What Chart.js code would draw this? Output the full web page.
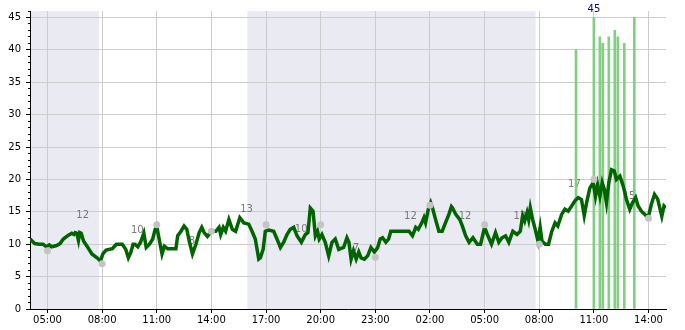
<!DOCTYPE html>
<html>
<head>
<meta charset="utf-8">
<script src="https://cdn.jsdelivr.net/npm/chart.js@4.4.1/dist/chart.umd.min.js"></script>
<style>
  html, body { margin: 0; padding: 0; background: #fff; }
</style>
</head>
<body>
<canvas id="windChart" width="685" height="330"></canvas>
<script>
// hours counted from 00:00 of the first day (26 = 02:00 next day)
var lineHours = [4.04, 4.30, 4.55, 4.76, 4.94, 5.10, 5.22, 5.5, 5.69, 5.87, 6.15, 6.33, 6.45, 6.52, 6.61, 6.70, 6.77, 6.85, 6.98,
  7.17, 7.44, 7.72, 7.91, 8.04, 8.22, 8.56, 8.78, 9.11, 9.30, 9.44, 9.57, 9.70, 9.80,
  9.96, 10.11, 10.29, 10.42, 10.6, 10.78, 10.91, 11.0, 11.15, 11.29, 11.42, 11.6, 11.87, 12.05, 12.15, 12.33, 12.5, 12.65,
  12.78, 12.96, 13.15, 13.33, 13.47, 13.6, 13.78, 14.0, 14.24, 14.42, 14.51, 14.65, 14.78, 14.96, 15.15, 15.33, 15.56,
  15.78, 16.05, 16.23, 16.41, 16.6, 16.69, 16.84, 16.96, 17.15, 17.42, 17.6, 17.79, 17.97, 18.15, 18.33, 18.52, 18.7,
  18.94, 19.16, 19.3, 19.43, 19.58, 19.71, 19.83, 19.92, 20.07, 20.25, 20.44, 20.62, 20.8, 20.99, 21.26, 21.44,
  21.55, 21.67, 21.8, 21.95, 22.09, 22.22, 22.4, 22.58, 22.76, 22.95, 23.13, 23.27, 23.4, 23.58, 23.73, 23.85,
  24.85, 25.04, 25.22, 25.36, 25.55, 25.67, 25.76, 25.91, 26.04, 26.16, 26.31, 26.49, 26.67, 26.85, 27.04, 27.18,
  27.24, 27.42, 27.64, 27.78, 27.96, 28.15, 28.36, 28.6, 28.78, 29.0, 29.15, 29.38, 29.6, 29.78, 29.96, 30.15, 30.33,
  30.55, 30.78, 30.96, 31.09, 31.2, 31.33, 31.42, 31.51, 31.64, 31.78, 31.93, 32.05, 32.15, 32.33, 32.51, 32.69, 32.87,
  33.02, 33.23, 33.41, 33.59, 33.78, 33.96, 34.14, 34.32, 34.47, 34.6, 34.78, 34.96, 35.09, 35.2, 35.33, 35.46, 35.57,
  35.69, 35.82, 35.97, 36.12, 36.24, 36.43, 36.61, 36.79, 36.97, 37.12, 37.29, 37.43, 37.61, 37.8, 37.98, 38.16, 38.33,
  38.5, 38.73, 38.85, 38.96];
var lineValues = [10.8, 10.1, 10.0, 10.0, 9.6, 9.9, 9.6, 9.8, 10.1, 10.8, 11.4, 11.7, 11.5, 11.8, 11.7, 10.6, 11.8, 11.7, 10.5,
  9.7, 8.5, 7.9, 7.4, 8.5, 9.1, 9.3, 10.0, 10.0, 9.2, 7.9, 8.7, 10.0, 10.0,
  9.6, 10.3, 11.7, 9.5, 10.0, 10.8, 12.3, 12.8, 10.5, 8.5, 9.7, 9.3, 9.3, 9.3, 11.3, 12.0, 12.8, 12.3,
  10.5, 8.5, 10.0, 11.8, 12.6, 11.8, 11.2, 12.0, 12.0, 12.6, 11.5, 12.6, 12.0, 13.8, 12.3, 12.0, 14.1,
  13.3, 13.1, 12.0, 10.8, 7.7, 7.9, 9.2, 12.0, 12.2, 12.0, 10.8, 9.5, 10.3, 11.5, 12.3, 12.6, 11.3,
  10.3, 11.5, 11.8, 15.6, 15.1, 11.3, 12.0, 10.8, 11.5, 10.3, 8.2, 10.3, 10.8, 9.2, 9.5, 11.0,
  10.3, 7.7, 9.0, 7.7, 8.8, 7.9, 7.7, 8.2, 9.5, 8.8, 9.5, 10.8, 11.0, 10.3, 10.8, 12.0,
  12.0, 11.3, 12.6, 12.3, 13.3, 14.1, 13.3, 15.4, 16.4, 15.4, 13.8, 12.0, 12.0, 13.3, 14.6, 15.8,
  15.6, 14.6, 13.8, 12.8, 11.3, 10.3, 11.0, 10.0, 10.0, 12.6, 11.5, 10.0, 11.8, 10.3, 11.0, 11.3, 10.3,
  12.0, 11.5, 12.0, 14.4, 13.6, 14.9, 13.8, 15.6, 13.8, 12.3, 10.5, 12.6, 10.5, 10.0, 10.0, 12.0, 13.3,
  12.8, 14.6, 15.4, 15.1, 15.9, 16.7, 17.2, 16.9, 14.4, 16.4, 18.7, 19.5, 17.4, 19.2, 17.4, 19.5, 18.5,
  16.4, 19.5, 21.5, 21.3, 20.0, 20.5, 19.0, 16.9, 15.4, 16.4, 17.2, 15.9, 15.1, 14.6, 14.1, 16.2, 17.7,
  17.0, 14.3, 15.9, 15.6];

var dotHours = [5, 8, 11, 14, 17, 20, 23, 26, 29, 32, 35, 38];
var dotValues = [9, 7, 13, 12, 13, 13, 8, 16, 13, 10, 20, 14];

var barHours = [34.02, 35.0, 35.33, 35.49, 35.82, 36.15, 36.32, 36.67, 37.22];
var barValues = [40, 45, 42, 41, 42, 43, 42, 41, 45];

var labelHours = [6.93, 9.93, 12.93, 15.93, 18.93, 21.93, 24.93, 27.93, 30.93, 33.93, 36.93];
var labelValues = [14.4, 12.2, 10.4, 15.3, 12.3, 9.3, 14.3, 14.3, 14.3, 19.3, 17.4];
var labelTexts = ['12', '10', '8', '13', '10', '7', '12', '12', '13', '17', '15'];

var tickHours = [5, 8, 11, 14, 17, 20, 23, 26, 29, 32, 35, 38];
var tickLabels = ['05:00', '08:00', '11:00', '14:00', '17:00', '20:00', '23:00', '02:00', '05:00', '08:00', '11:00', '14:00'];

var nightStart = [0, 15.97];
var nightEnd = [7.83, 31.8];

var FONT = 'DejaVu Sans';

function pts(xs, ys) {
    return xs.map(function (h, i) { return { x: h, y: ys[i] }; });
}

// grey night bands behind the grid
var nightShade = {
    id: 'nightShade',
    beforeDraw: function (chart) {
        var ctx = chart.ctx, area = chart.chartArea, sx = chart.scales.x;
        ctx.save();
        ctx.fillStyle = '#eaeaf2';
        for (var i = 0; i < nightStart.length; i++) {
            var x1 = Math.max(area.left, sx.getPixelForValue(nightStart[i]));
            var x2 = Math.min(area.right, sx.getPixelForValue(nightEnd[i]));
            ctx.fillRect(x1, area.top, x2 - x1, area.bottom - area.top);
        }
        ctx.restore();
    }
};

// small grey numbers, under the line
var periodLabels = {
    id: 'periodLabels',
    beforeDatasetsDraw: function (chart) {
        var ctx = chart.ctx, sx = chart.scales.x, sy = chart.scales.y;
        ctx.save();
        ctx.fillStyle = '#777777';
        ctx.font = '10px "' + FONT + '"';
        ctx.textAlign = 'center';
        ctx.textBaseline = 'middle';
        for (var i = 0; i < labelTexts.length; i++) {
            ctx.fillText(labelTexts[i], sx.getPixelForValue(labelHours[i]), sy.getPixelForValue(labelValues[i]));
        }
        ctx.restore();
    }
};

// max of the bars written above the plot
var maxLabel = {
    id: 'maxLabel',
    afterDatasetsDraw: function (chart) {
        var ctx = chart.ctx, sx = chart.scales.x;
        var m = Math.max.apply(null, barValues);
        var idx = barValues.indexOf(m);
        ctx.save();
        ctx.fillStyle = '#000080';
        ctx.font = '10px "' + FONT + '"';
        ctx.textAlign = 'center';
        ctx.textBaseline = 'middle';
        ctx.fillText(String(m), sx.getPixelForValue(barHours[idx]), chart.chartArea.top - 2);
        ctx.restore();
    }
};

const windChart = new Chart('windChart', {
    type: 'line',
    data: {
        datasets: [{
            type: 'line',
            data: pts(dotHours, dotValues),
            showLine: false,
            pointRadius: 3.5,
            pointBackgroundColor: '#c4c4c4',
            pointBorderWidth: 0,
            order: 1
        }, {
            type: 'line',
            data: pts(lineHours, lineValues),
            borderColor: '#006400',
            borderWidth: 3.5,
            pointRadius: 0,
            tension: 0,
            order: 2
        }, {
            type: 'bar',
            data: pts(barHours, barValues),
            backgroundColor: '#80d080',
            borderWidth: 0,
            barThickness: 2,
            order: 3
        }]
    },
    options: {
        responsive: false,
        animation: false,
        devicePixelRatio: 1,
        layout: { padding: { top: 10, right: 19, left: 0, bottom: 0 } },
        plugins: { legend: { display: false }, tooltip: { enabled: false } },
        scales: {
            x: {
                type: 'linear',
                min: 4.04,
                max: 38.96,
                offset: false,
                afterBuildTicks: function (s) {
                    s.ticks = tickHours.map(function (v) { return { value: v }; });
                },
                afterFit: function (s) { s.height = 21; },
                ticks: {
                    callback: function (v, i) { return tickLabels[i]; },
                    color: '#000',
                    font: { family: FONT, size: 10 },
                    padding: 1,
                    maxRotation: 0,
                    autoSkip: false
                },
                grid: { color: '#cccccc', tickColor: '#000', tickLength: 4, offset: false },
                border: { color: '#000' }
            },
            y: {
                min: 0,
                max: 46,
                weight: 1,
                afterFit: function (s) { s.width = 30; },
                ticks: {
                    stepSize: 5,
                    includeBounds: false,
                    color: '#000',
                    font: { family: FONT, size: 10 },
                    padding: 5
                },
                grid: { color: '#cccccc', tickColor: '#000', tickLength: 4 },
                border: { color: '#000' }
            },
            yMinor: {
                position: 'left',
                min: 0,
                max: 46,
                weight: 0,
                afterFit: function (s) { s.width = 0; },
                ticks: { display: false, stepSize: 1, includeBounds: false },
                grid: { drawOnChartArea: false, tickColor: '#000', tickLength: 2 },
                border: { display: false }
            }
        }
    },
    plugins: [nightShade, periodLabels, maxLabel]
});
</script>
</body>
</html>
